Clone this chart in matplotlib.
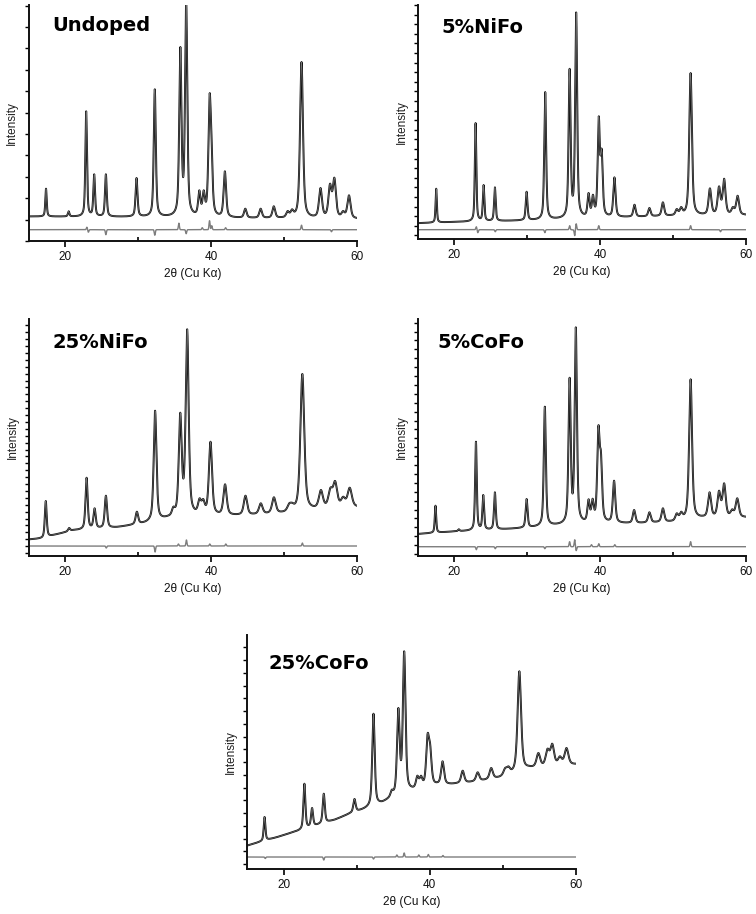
import numpy as np
import matplotlib
matplotlib.use("Agg")
import matplotlib.pyplot as plt

# ---------------- data (2theta in degrees, intensity in arbitrary units) ----------------
TITLES = ["Undoped", "5%NiFo", "25%NiFo", "5%CoFo", "25%CoFo"]
X_TICKS = [20, 40, 60]
X_MINOR = [30, 50]

# Undoped
UND_POS = [17.4, 20.5, 22.9, 24.0, 25.6, 29.8, 32.3, 35.8, 36.6, 38.4, 39.0, 39.8, 40.05, 41.9,
           44.7, 46.8, 48.6, 50.5, 51.1, 52.4, 55.0, 56.3, 56.9, 58.1, 58.9]
UND_TIP = [52.3, 29.7, 129.7, 66.7, 66.7, 63.0, 151.7, 194.0, 240.0, 50.7, 50.7, 146.3, 110.0, 69.7,
           32.3, 32.3, 34.7, 30.0, 31.7, 179.0, 53.0, 57.3, 63.3, 30.0, 45.7]
UND_BGX = [15, 30, 45, 60]
UND_BGY = [24.5, 24.0, 22.8, 22.0]
UND_DIFF_LEVEL = 11.3
UND_DIFF_POS = [23.0, 23.2, 25.6, 32.3, 35.6, 36.6, 38.8, 39.8, 40.1, 42.0, 52.4, 56.5]
UND_DIFF_AMP = [2.5, -2.5, -5.0, -5.5, 6.5, -4.0, 2.0, 9.0, 4.0, 2.0, 4.5, -2.0]

# 5%NiFo
NI5_POS = [17.5, 22.9, 24.0, 25.55, 29.9, 32.45, 35.8, 36.7, 38.4, 39.0, 39.8, 40.2, 41.95,
           44.7, 46.75, 48.6, 50.5, 51.1, 52.4, 55.05, 56.3, 57.0, 58.2, 58.85]
NI5_TIP = [50.3, 116.0, 54.0, 51.7, 47.3, 147.0, 170.3, 226.7, 46.0, 44.3, 122.7, 90.0, 61.7,
           34.3, 31.0, 36.7, 30.0, 32.0, 166.0, 50.7, 52.7, 60.3, 32.0, 43.3]
NI5_BGX = [15, 20, 30, 40, 50, 60]
NI5_BGY = [15.8, 17.0, 18.5, 21.0, 23.0, 23.8]
NI5_DIFF_LEVEL = 9.3
NI5_DIFF_POS = [23.0, 23.2, 25.6, 32.4, 35.8, 36.5, 36.7, 39.8, 52.4, 56.5]
NI5_DIFF_AMP = [3.0, -3.0, -2.0, -3.0, 4.0, -6.0, 6.0, 4.0, 4.0, -2.0]

# 25%NiFo
NI25_POS = [17.3, 20.5, 22.9, 24.0, 25.55, 29.8, 32.3, 34.8, 35.75, 36.7, 38.4, 38.9, 39.9, 41.9,
            44.7, 46.8, 48.6, 50.7, 51.1, 52.5, 55.05, 56.35, 57.0, 58.1, 59.0]
NI25_TIP = [55.0, 28.0, 78.3, 47.7, 60.3, 44.3, 145.3, 49.3, 143.3, 226.7, 57.7, 57.0, 114.3, 71.7,
            60.3, 52.7, 58.7, 52.7, 53.3, 182.0, 66.0, 68.3, 75.0, 59.3, 68.3]
NI25_BGX = [15, 16.8, 18.5, 21, 27, 31, 34, 38, 45, 50, 54, 60]
NI25_BGY = [16.5, 17.5, 21.0, 25.5, 28.5, 32.5, 37.0, 39.5, 40.5, 42.5, 45.5, 48.5]
NI25_DIFF_LEVEL = 10.0
NI25_DIFF_POS = [25.6, 32.3, 35.5, 36.6, 39.8, 42.0, 52.5]
NI25_DIFF_AMP = [-2.0, -6.0, 2.0, 6.0, 2.0, 2.0, 3.0]

# 5%CoFo
CO5_POS = [17.4, 20.6, 22.95, 23.95, 25.55, 29.9, 32.4, 35.8, 36.65, 38.4, 38.95, 39.75, 40.1, 41.9,
           44.65, 46.75, 48.6, 50.5, 51.1, 52.4, 55.0, 56.3, 57.0, 58.1, 58.8]
CO5_TIP = [50.3, 26.7, 114.3, 61.0, 63.7, 57.0, 149.3, 178.3, 228.7, 56.7, 57.3, 130.3, 104.3, 75.3,
           46.0, 43.7, 47.7, 42.7, 44.3, 176.7, 63.7, 65.3, 72.7, 46.7, 57.7]
CO5_BGX = [15, 20, 25, 30, 33, 40, 45, 50, 54, 60]
CO5_BGY = [22.0, 24.5, 26.0, 28.0, 30.0, 32.5, 32.5, 34.0, 37.5, 38.5]
CO5_DIFF_LEVEL = 9.3
CO5_DIFF_POS = [23.0, 25.6, 32.4, 35.8, 36.5, 36.7, 38.8, 39.8, 42.0, 52.4]
CO5_DIFF_AMP = [-3.0, -2.0, -2.0, 5.0, 7.0, -4.0, 2.0, 3.0, 2.0, 5.0]

# 25%CoFo
CO25_POS = [17.4, 22.85, 23.9, 25.5, 29.7, 32.3, 34.8, 35.7, 36.5, 38.3, 38.8, 39.7, 40.05, 41.75,
            44.5, 46.55, 48.4, 50.3, 50.75, 52.25, 54.85, 56.1, 56.75, 57.8, 58.7]
CO25_TIP = [52.0, 85.3, 61.0, 75.3, 70.0, 155.3, 79.3, 161.0, 217.7, 93.3, 93.3, 135.3, 125.3, 107.7,
            98.3, 96.7, 101.0, 101.0, 102.7, 197.7, 116.0, 120.3, 125.3, 112.7, 121.0]
CO25_BGX = [15, 17, 19, 21, 22.3, 27, 29, 31, 33.5, 34.3, 37.5, 41, 43, 45.5, 47.5, 49.5, 51.5, 53.5, 57, 60]
CO25_BGY = [23.3, 27.5, 31.5, 36.0, 38.5, 49.0, 55.0, 59.5, 65.5, 68.5, 77.5, 83.5, 84.5, 86.5, 88.5,
            91.0, 95.0, 100.0, 102.5, 104.5]
CO25_DIFF_LEVEL = 12.0
CO25_DIFF_POS = [17.5, 25.5, 32.3, 35.5, 36.5, 38.5, 39.8, 41.8]
CO25_DIFF_AMP = [-1.5, -3.0, -2.0, 2.0, 4.0, 2.0, 2.5, 1.5]

# ---------------- layout (pixels of the 756x914 figure) ----------------
FIG_W, FIG_H = 756, 914
# left, right, top, bottom in pixels
BOXES = [(28.5, 357, 5, 241), (418, 746, 5, 239), (29, 357, 319, 556),
         (418, 746, 319, 556), (247, 576, 635, 869)]
WIDTH0 = [0.21, 0.19, 0.28, 0.21, 0.25]
YTICK_STEP = [21.4, 9.6, 6.9, 8.9, 12.75]
YTICK_OFF = [0.0, 3.7, 3.0, 2.0, 5.0]
TITLE_XY = [(0.073, 0.912), (0.072, 0.905), (0.073, 0.9), (0.060, 0.9), (0.066, 0.878)]
LABEL_FONT = ["Liberation Sans", "DejaVu Sans"]


def pv(x, p, w, eta=0.55):
    d = (x - p) / w
    return eta / (1 + 4 * d * d) + (1 - eta) * np.exp(-4 * np.log(2) * d * d)


def build(pos, tip, bgx, bgy, w0, x):
    pos = np.asarray(pos, float)
    tip = np.asarray(tip, float)
    widths = w0 * (1 + (pos - 15) / 30.0)
    M = np.array([[pv(pi, pj, wj) for pj, wj in zip(pos, widths)] for pi in pos])
    rhs = tip - np.interp(pos, bgx, bgy)
    amp = np.linalg.solve(M, rhs)
    amp = np.clip(amp, 0, None)
    y = np.interp(x, bgx, bgy)
    for p, w, a in zip(pos, widths, amp):
        y = y + a * pv(x, p, w)
    return y


def build_diff(level, dpos, damp, x):
    d = np.full_like(x, level)
    for p, a in zip(dpos, damp):
        d = d + a * np.exp(-((x - p) / 0.1) ** 2)
    return d


PANELS = [
    (UND_POS, UND_TIP, UND_BGX, UND_BGY, UND_DIFF_LEVEL, UND_DIFF_POS, UND_DIFF_AMP),
    (NI5_POS, NI5_TIP, NI5_BGX, NI5_BGY, NI5_DIFF_LEVEL, NI5_DIFF_POS, NI5_DIFF_AMP),
    (NI25_POS, NI25_TIP, NI25_BGX, NI25_BGY, NI25_DIFF_LEVEL, NI25_DIFF_POS, NI25_DIFF_AMP),
    (CO5_POS, CO5_TIP, CO5_BGX, CO5_BGY, CO5_DIFF_LEVEL, CO5_DIFF_POS, CO5_DIFF_AMP),
    (CO25_POS, CO25_TIP, CO25_BGX, CO25_BGY, CO25_DIFF_LEVEL, CO25_DIFF_POS, CO25_DIFF_AMP),
]

fig = plt.figure(figsize=(FIG_W / 100, FIG_H / 100), dpi=100)
fig.patch.set_facecolor("white")

x = np.linspace(15, 60, 6001)

for i, (pos, tip, bgx, bgy, dl, dpos, damp) in enumerate(PANELS):
    l, r, t, b = BOXES[i]
    ax = fig.add_axes([l / FIG_W, 1 - b / FIG_H, (r - l) / FIG_W, (b - t) / FIG_H])
    H = b - t
    y = build(pos, tip, bgx, bgy, WIDTH0[i], x)
    d = build_diff(dl, dpos, damp, x)
    ax.plot(x, d, color="#7d7d7d", lw=1.0, solid_joinstyle="round")
    ax.plot(x, y, color="#111111", lw=1.4, solid_joinstyle="round")
    ax.plot(x, y, color="#777777", lw=0.45)
    ax.set_xlim(15, 60)
    ax.set_ylim(0, H)
    for s in ["top", "right"]:
        ax.spines[s].set_visible(False)
    for s in ["left", "bottom"]:
        ax.spines[s].set_linewidth(1.4)
        ax.spines[s].set_color("#111111")
    ax.set_xticks(X_TICKS)
    ax.set_xticks(X_MINOR, minor=True)
    ax.set_xticklabels([str(v) for v in X_TICKS], fontsize=8.5, family=LABEL_FONT,
                       color="#111111")
    ax.tick_params(axis="x", which="major", direction="out", length=4, width=1.2, pad=3)
    ax.tick_params(axis="x", which="minor", direction="in", length=3, width=1.2)
    yt = np.arange(YTICK_OFF[i], H + 0.5, YTICK_STEP[i])
    ax.set_yticks(yt)
    ax.set_yticklabels([])
    ax.tick_params(axis="y", which="major", direction="out", length=3, width=1.0)
    ax.set_ylabel("Intensity", fontsize=8.5, family=LABEL_FONT, color="#222222", labelpad=1)
    ax.set_xlabel("2\u03b8 (Cu K\u03b1)", fontsize=8.5, family=LABEL_FONT,
                  color="#111111", labelpad=4)
    ax.text(TITLE_XY[i][0], TITLE_XY[i][1], TITLES[i], transform=ax.transAxes,
            fontsize=14, fontweight="bold", family="DejaVu Sans", ha="left", va="center",
            color="black")

fig.savefig("out.png", dpi=100, facecolor="white")
